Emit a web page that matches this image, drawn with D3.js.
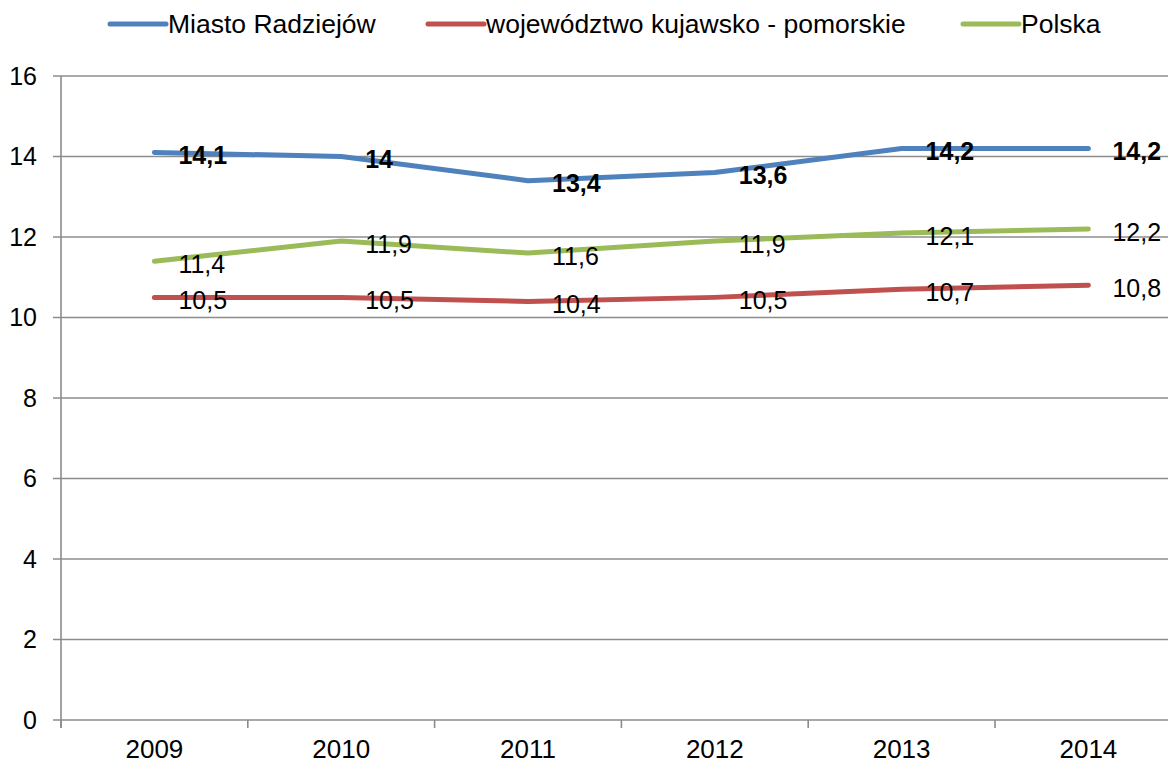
<!DOCTYPE html>
<html><head><meta charset="utf-8">
<script src="https://cdn.jsdelivr.net/npm/d3@7"></script>
<style>body{margin:0;background:#fff}svg{display:block;font-family:"Liberation Sans",Arial,sans-serif}</style>
</head><body><svg id="c" width="1168" height="764"></svg>
<script>
const years = ["2009","2010","2011","2012","2013","2014"];
const miasto = [14.1, 14.0, 13.4, 13.6, 14.2, 14.2];
const wojewodztwo = [10.5, 10.5, 10.4, 10.5, 10.7, 10.8];
const polska = [11.4, 11.9, 11.6, 11.9, 12.1, 12.2];
const seriesNames = ["Miasto Radziejów", "województwo kujawsko - pomorskie", "Polska"];
const yTicks = [0, 2, 4, 6, 8, 10, 12, 14, 16];

(function(){
const series = [
  {name: seriesNames[0], values: miasto, color: "#4F81BD", bold: true},
  {name: seriesNames[1], values: wojewodztwo, color: "#C0504D", bold: false},
  {name: seriesNames[2], values: polska, color: "#9BBB59", bold: false}
];

const svg = d3.select("#c");
const pLeft = 61, pBottom = 720, pTop = 76, bandW = 186.8;
const x = d3.scaleBand().domain(years).range([pLeft, pLeft + bandW * years.length]).padding(0);
const y = d3.scaleLinear().domain([0, 16]).range([pBottom, pTop]);
const grid = "#8c8c8c";

svg.append("g").selectAll("line").data(yTicks).join("line")
  .attr("x1", 53).attr("x2", 1168)
  .attr("y1", d => y(d)).attr("y2", d => y(d))
  .attr("stroke", grid).attr("stroke-width", 1.6);

svg.append("line").attr("x1", pLeft).attr("x2", pLeft).attr("y1", pTop).attr("y2", pBottom + 8)
  .attr("stroke", grid).attr("stroke-width", 1.6);

svg.append("g").selectAll("text").data(yTicks).join("text")
  .attr("x", 37).attr("y", d => y(d)).attr("dy", "0.35em")
  .attr("text-anchor", "end").attr("font-size", 25).attr("fill", "#000")
  .text(d => d);

const bounds = years.map(d => x(d)).concat([x(years[years.length-1]) + x.bandwidth()]);
svg.append("g").selectAll("line").data(bounds).join("line")
  .attr("x1", d => d).attr("x2", d => d).attr("y1", pBottom).attr("y2", pBottom + 8)
  .attr("stroke", grid).attr("stroke-width", 1.6);

svg.append("g").selectAll("text").data(years).join("text")
  .attr("x", d => x(d) + x.bandwidth() / 2).attr("y", 758)
  .attr("text-anchor", "middle").attr("font-size", 26).attr("fill", "#000")
  .text(d => d);

const cx = d => x(d) + x.bandwidth() / 2;
const line = d3.line().x((v, i) => cx(years[i])).y(v => y(v));

[series[1], series[2], series[0]].forEach(s => {
  svg.append("path").datum(s.values).attr("d", line)
    .attr("fill", "none").attr("stroke", s.color).attr("stroke-width", 5)
    .attr("stroke-linejoin", "round").attr("stroke-linecap", "round");
});

series.forEach(s => {
  svg.append("g").selectAll("text").data(s.values).join("text")
    .attr("x", (v, i) => cx(years[i]) + 24)
    .attr("y", v => y(v) + 3).attr("dy", "0.35em")
    .attr("font-size", 25).attr("font-weight", s.bold ? "bold" : "normal").attr("fill", "#000")
    .text(v => String(v).replace(".", ","));
});

const legendX = [110, 428, 963];
series.forEach((s, i) => {
  const g = svg.append("g").attr("transform", `translate(${legendX[i]},24)`);
  g.append("line").attr("x1", 0).attr("x2", 56).attr("y1", 0).attr("y2", 0)
    .attr("stroke", s.color).attr("stroke-width", 5).attr("stroke-linecap", "round");
  g.append("text").attr("x", 58).attr("y", 0).attr("dy", "0.35em")
    .attr("font-size", 26.5).attr("fill", "#000").text(s.name);
});
})();
</script></body></html>
